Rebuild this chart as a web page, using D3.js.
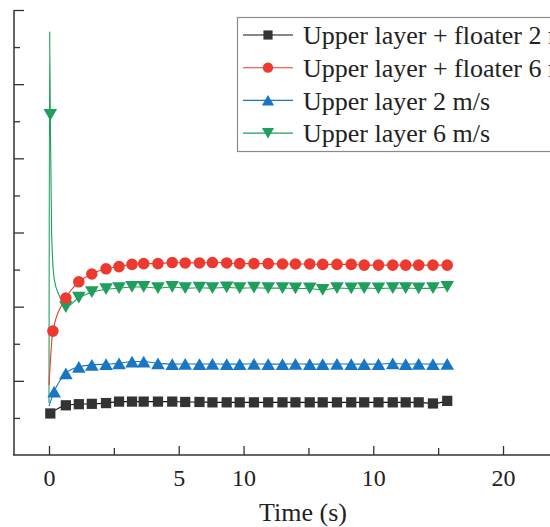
<!DOCTYPE html>
<html>
<head>
<meta charset="utf-8">
<script src="https://cdn.jsdelivr.net/npm/d3@7"></script>
<style>
  body { margin: 0; background: #fff; }
  svg text { font-family: "Liberation Serif", "Times New Roman", serif; fill: #222; }
</style>
</head>
<body>
<div class="chart"></div>
<script>
// Marker times shared by all four series (after the first marker)
const markerTime = [1.3, 2.3, 3.3, 4.4, 5.4, 6.4, 7.3, 8.4, 9.5, 10.5, 11.6, 12.6, 13.7, 14.7,
  15.8, 16.9, 18.0, 19.0, 20.1, 21.1, 22.2, 23.3, 24.3, 25.4, 26.5, 27.5, 28.5, 29.6, 30.7];

// Upper layer + floater 2 m/s
const floater2Lead = { t: [], v: [] };
const floater2First = [0.1, 1.12];
const floater2Values = [1.34, 1.37, 1.38, 1.40, 1.44, 1.44, 1.44, 1.44, 1.44, 1.43, 1.43, 1.42, 1.42, 1.42,
  1.42, 1.42, 1.42, 1.42, 1.42, 1.42, 1.42, 1.42, 1.42, 1.42, 1.42, 1.42, 1.42, 1.39, 1.46];

// Upper layer + floater 6 m/s
const floater6Lead = { t: [0], v: [1.89] };
const floater6First = [0.3, 3.34];
const floater6Values = [4.23, 4.67, 4.88, 5.02, 5.08, 5.14, 5.16, 5.16, 5.19, 5.18, 5.18, 5.19, 5.18, 5.16,
  5.16, 5.16, 5.15, 5.15, 5.15, 5.14, 5.14, 5.14, 5.12, 5.12, 5.12, 5.12, 5.12, 5.12, 5.12];

// Upper layer 2 m/s
const upper2Lead = { t: [0], v: [1.32] };
const upper2First = [0.4, 1.71];
const upper2Values = [2.20, 2.38, 2.43, 2.45, 2.47, 2.52, 2.52, 2.47, 2.45, 2.46, 2.45, 2.46, 2.45, 2.45,
  2.46, 2.45, 2.45, 2.46, 2.45, 2.45, 2.46, 2.45, 2.45, 2.45, 2.47, 2.45, 2.46, 2.45, 2.46];

// Upper layer 6 m/s (sharp start-up spike)
const upper6Lead = { t: [0, 0.05, 0.2, 0.4, 0.8], v: [1.40, 11.41, 6.0, 4.75, 4.29] };
const upper6First = [0.1, 9.17];
const upper6Values = [3.99, 4.24, 4.39, 4.47, 4.50, 4.53, 4.53, 4.50, 4.53, 4.50, 4.51, 4.50, 4.52, 4.50,
  4.51, 4.50, 4.50, 4.49, 4.49, 4.45, 4.50, 4.49, 4.50, 4.49, 4.50, 4.50, 4.49, 4.50, 4.53];

const seriesNames = ["Upper layer + floater 2 m/s", "Upper layer + floater 6 m/s",
  "Upper layer 2 m/s", "Upper layer 6 m/s"];

// Tick labels as printed on the original axis
const xTicks = [0, 5, 10, 15, 20, 25, 30, 35];
const xTickLabels = ["0", "", "5", "10", "", "10", "", "20"];
const yTicks = [1, 2, 3, 4, 5, 6, 7, 8, 9, 10, 11, 12];

const width = 550, height = 527;

const svg = d3.select(".chart").append("svg")
  .attr("width", width)
  .attr("height", height);

const x = d3.scaleLinear().domain([0, 35]).range([49, 503]);
const y = d3.scaleLinear().domain([0, 12]).range([455, 10]);

const series = [
  { name: seriesNames[0], lead: floater2Lead, first: floater2First, values: floater2Values,
    color: "#333333", line: "#111111", symbol: d3.symbolSquare, size: 105, rotate: 0 },
  { name: seriesNames[1], lead: floater6Lead, first: floater6First, values: floater6Values,
    color: "#ec3a30", line: "#ec3a30", symbol: d3.symbolCircle, size: 105, rotate: 0 },
  { name: seriesNames[2], lead: upper2Lead, first: upper2First, values: upper2Values,
    color: "#1876c2", line: "#1876c2", symbol: d3.symbolTriangle, size: 80, rotate: 0 },
  { name: seriesNames[3], lead: upper6Lead, first: upper6First, values: upper6Values,
    color: "#1f9e5c", line: "#1f9e5c", symbol: d3.symbolTriangle, size: 80, rotate: 180 }
];

series.forEach(s => {
  s.markers = [{ t: s.first[0], v: s.first[1] }]
    .concat(markerTime.map((t, i) => ({ t: t, v: s.values[i] })));
  s.points = s.lead.t.map((t, i) => ({ t: t, v: s.lead.v[i] }))
    .concat(s.markers)
    .sort((a, b) => a.t - b.t);
});

// axes
const axisColor = "#333";
svg.append("line")
  .attr("x1", 13).attr("x2", width).attr("y1", 455).attr("y2", 455)
  .attr("stroke", axisColor).attr("stroke-width", 1.5);
svg.append("line")
  .attr("x1", 14).attr("x2", 14).attr("y1", 10).attr("y2", 455)
  .attr("stroke", axisColor).attr("stroke-width", 1.5);

const xAxis = svg.append("g")
  .attr("transform", "translate(0,455)")
  .call(d3.axisBottom(x).tickValues(xTicks).tickSize(-8).tickPadding(30)
    .tickFormat((d, i) => xTickLabels[i]));
xAxis.select(".domain").remove();
xAxis.selectAll(".tick line").attr("stroke", axisColor).attr("stroke-width", 1.3)
  .attr("y2", (d, i) => xTickLabels[i] ? -9 : -7);
xAxis.selectAll(".tick text")
  .attr("y", 31).attr("dy", null)
  .style("font-size", "24px")
  .style("font-family", "'Liberation Serif', 'Times New Roman', serif")
  .attr("fill", "#222");

const yAxis = svg.append("g")
  .attr("transform", "translate(14,0)")
  .call(d3.axisLeft(y).tickValues(yTicks).tickFormat(""));
yAxis.select(".domain").remove();
yAxis.selectAll(".tick line").attr("stroke", axisColor).attr("stroke-width", 1.3)
  .attr("x2", d => d % 2 === 0 ? 10 : 6);

svg.append("text")
  .attr("x", 303).attr("y", 521)
  .attr("text-anchor", "middle")
  .style("font-size", "26px")
  .text("Time (s)");

// lines
const line = d3.line()
  .x(d => x(d.t))
  .y(d => y(d.v))
  .curve(d3.curveMonotoneX);

// draw the spike series first so the others sit on top like the original
const drawOrder = [3, 0, 2, 1];
drawOrder.forEach(k => {
  const s = series[k];
  svg.append("path")
    .datum(s.points)
    .attr("fill", "none")
    .attr("stroke", s.line)
    .attr("stroke-width", 1.1)
    .attr("d", line);
});

drawOrder.forEach(k => {
  const s = series[k];
  const sym = d3.symbol().type(s.symbol).size(s.size);
  svg.append("g").selectAll("path")
    .data(s.markers)
    .join("path")
    .attr("transform", d => {
      // triangles: shift so the bounding box is centred on the point
      let off = 0;
      if (s.symbol === d3.symbolTriangle) off = s.rotate ? -2 : 2;
      return `translate(${x(d.t)},${y(d.v) + off}) rotate(${s.rotate})`;
    })
    .attr("d", sym)
    .attr("fill", s.color);
});

// legend
const legend = svg.append("g");
legend.append("rect")
  .attr("x", 237.5).attr("y", 17.5)
  .attr("width", 330).attr("height", 134)
  .attr("fill", "#fff")
  .attr("stroke", "#8a8a8a")
  .attr("stroke-width", 1.2);

series.forEach((s, i) => {
  const ly = 35 + i * 32.7;
  const g = legend.append("g").attr("transform", `translate(0,${ly})`);
  g.append("line")
    .attr("x1", 243).attr("x2", 293)
    .attr("stroke", s.line).attr("stroke-width", 1.1);
  let off = 0;
  if (s.symbol === d3.symbolTriangle) off = s.rotate ? -1.5 : 1.5;
  g.append("path")
    .attr("transform", `translate(268,${off}) rotate(${s.rotate})`)
    .attr("d", d3.symbol().type(s.symbol).size(s.size * 0.8))
    .attr("fill", s.color);
  g.append("text")
    .attr("x", 303).attr("dy", "0.35em")
    .style("font-size", "26px")
    .text(s.name);
});
</script>
</body>
</html>
